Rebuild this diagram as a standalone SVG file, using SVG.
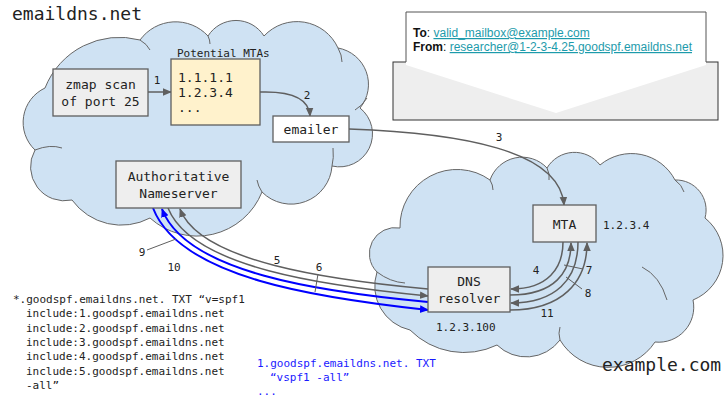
<svg xmlns="http://www.w3.org/2000/svg" width="725" height="401" viewBox="0 0 725 401">
<defs>
<style>
.cloud{fill:#cfe2f3;stroke:#666;stroke-width:1}
.hook{fill:none;stroke:#666;stroke-width:1}
.box{fill:#eeeeee;stroke:#5f5f5f;stroke-width:1.3}
.mono{font-family:"DejaVu Sans Mono","Liberation Mono",monospace;fill:#222}
.t13{font-size:13px}
.t11{font-size:11px}
.c{text-anchor:middle}
.g{fill:none;stroke:#5f5f5f;stroke-width:1.5}
.b{fill:none;stroke:#0000ff;stroke-width:2}
.lead{fill:none;stroke:#5f5f5f;stroke-width:1}
.sans{font-family:"Liberation Sans",Arial,sans-serif;font-size:12px;fill:#111}
.link{fill:#1d9bab;text-decoration:underline}
</style>
<marker id="ag" viewBox="0 0 10 10" refX="9" refY="5" markerWidth="9" markerHeight="9" markerUnits="userSpaceOnUse" orient="auto"><path d="M0,0.8 L10,5 L0,9.2 z" fill="#5f5f5f"/></marker>
<marker id="ab" viewBox="0 0 10 10" refX="9" refY="5" markerWidth="9" markerHeight="9" markerUnits="userSpaceOnUse" orient="auto"><path d="M0,0.8 L10,5 L0,9.2 z" fill="#0000ff"/></marker>
</defs>

<g id="cloud-emaildns">
<path class="cloud" d="M 35,150 A 38,38 0 0 1 45,88 A 80,80 0 0 1 140,40 A 44,44 0 0 1 208,36 A 33,33 0 0 1 264,36 A 45,45 0 0 1 338,48 A 37,37 0 0 1 360,108 A 33,33 0 0 1 332,166 A 41,41 0 0 1 262,192 A 70,70 0 0 1 150,218 A 61,61 0 0 1 72,200 A 34,34 0 0 1 35,150 Z"/>
<path class="hook" d="M 35,150 Q 50,144 62,148 M 140,40 Q 147,44 150,50 M 338,48 Q 342,55 342,62 M 355,110 Q 362,106 367,98 M 332,166 Q 334,158 333,148 M 257,180 Q 258,186 262,192 M 208,36 Q 210,40 210,44"/>
<text class="mono" x="12" y="20" font-size="18">emaildns.net</text>
</g>

<g id="cloud-example">
<path class="cloud" d="M 400,228 A 57,57 0 0 1 490,180 A 34,34 0 0 1 547,168 A 32,32 0 0 1 600,165 A 49,49 0 0 1 675,180 A 30,30 0 0 1 705,218 A 48,48 0 0 1 693,300 A 35,35 0 0 1 655,342 A 56,56 0 0 1 560,340 A 42,42 0 0 1 497,345 A 76,76 0 0 1 410,330 A 45,45 0 0 1 377,272 A 26,26 0 0 1 400,228 Z"/>
<path class="hook" d="M 547,168 Q 550,174 549,180 M 675,180 Q 682,185 684,192 M 642,267 Q 660,276 667,300 M 560,340 Q 558,333 560,327 M 377,272 Q 390,282 405,283 M 490,180 Q 493,185 493,190"/>
<text class="mono" x="602" y="371" font-size="18">example.com</text>
</g>

<g id="connectors">
<path class="g" d="M 148,92 L 171,92" marker-end="url(#ag)"/>
<path class="g" d="M 260,92 C 290,91 309,98 310,116" marker-end="url(#ag)"/>
<path class="g" d="M 349,129 C 460,133 560,150 564,205" marker-end="url(#ag)"/>
<path class="g" d="M 428,289 C 330,280 200,262 180,209" marker-end="url(#ag)"/>
<path class="g" d="M 168,208 C 192,268 326,286 428,296" marker-end="url(#ag)"/>
<path class="b" d="M 428,302 C 322,292 186,273 162,209" marker-end="url(#ab)"/>
<path class="b" d="M 153,208 C 180,278 318,298 428,310" marker-end="url(#ab)"/>
<path class="g" d="M 563,242 C 563,268 548,289 511,289" marker-end="url(#ag)"/>
<path class="g" d="M 510,295 C 555,295 571,272 571,243" marker-end="url(#ag)"/>
<path class="g" d="M 578,242 C 578,280 555,303 511,303" marker-end="url(#ag)"/>
<path class="g" d="M 510,310 C 562,310 587,282 587,243" marker-end="url(#ag)"/>
<path class="lead" d="M 147,250 L 176,239 M 318,274 L 315,292 M 564,265 L 583,269 M 566,277 L 582,289"/>
<g class="mono t11 c">
<text x="157" y="84">1</text>
<text x="307" y="99">2</text>
<text x="499" y="141">3</text>
<text x="536" y="274">4</text>
<text x="277" y="264">5</text>
<text x="319" y="271">6</text>
<text x="589" y="274">7</text>
<text x="588" y="297">8</text>
<text x="142" y="256">9</text>
<text x="174" y="271">10</text>
<text x="547" y="317">11</text>
</g>
</g>

<g id="zmap">
<rect class="box" x="53" y="69" width="95" height="47"/>
<text class="mono t13 c" x="100.5" y="89">zmap scan</text>
<text class="mono t13 c" x="100.5" y="106">of port 25</text>
</g>

<g id="potential-mtas">
<text class="mono t11" x="177" y="57">Potential MTAs</text>
<rect x="171" y="59" width="89" height="66" fill="#fff2cc" stroke="#5f5f5f" stroke-width="1.3"/>
<text class="mono t13" x="178" y="82">1.1.1.1</text>
<text class="mono t13" x="178" y="97">1.2.3.4</text>
<text class="mono t13" x="178" y="112">...</text>
</g>

<g id="emailer">
<rect x="273" y="116" width="76" height="26" fill="#ffffff" stroke="#5f5f5f" stroke-width="1.3"/>
<text class="mono t13 c" x="311" y="134">emailer</text>
</g>

<g id="nameserver">
<rect class="box" x="116" y="161" width="125" height="47"/>
<text class="mono t13 c" x="178.5" y="181">Authoritative</text>
<text class="mono t13 c" x="178.5" y="198">Nameserver</text>
</g>

<g id="mta">
<rect class="box" x="533" y="205" width="63" height="37"/>
<text class="mono t13 c" x="564.5" y="229">MTA</text>
<text class="mono t11" x="603" y="229">1.2.3.4</text>
</g>

<g id="resolver">
<rect class="box" x="428" y="267" width="82" height="45"/>
<text class="mono t13 c" x="469" y="286">DNS</text>
<text class="mono t13 c" x="469" y="303">resolver</text>
<text class="mono t11" x="436" y="331">1.2.3.100</text>
</g>

<g id="envelope">
<rect x="393" y="62" width="325" height="58" fill="#eeeeee" stroke="#333" stroke-width="1"/>
<polygon points="406,12 706,12 706,65 556,113 406,65" fill="#ffffff"/>
<path d="M 406,62 L 406,12 L 706,12 L 706,62" fill="none" stroke="#555" stroke-width="1"/>
<text class="sans" x="413" y="37"><tspan font-weight="bold">To</tspan>: <tspan class="link">valid_mailbox@example.com</tspan></text>
<text class="sans" x="413" y="51"><tspan font-weight="bold">From</tspan>: <tspan class="link">researcher@1-2-3-4.25.goodspf.emaildns.net</tspan></text>
</g>

<g id="txt-wildcard" class="mono t11">
<text x="13" y="303">*.goodspf.emaildns.net. TXT “v=spf1</text>
<text x="26" y="317.3">include:1.goodspf.emaildns.net</text>
<text x="26" y="331.7">include:2.goodspf.emaildns.net</text>
<text x="26" y="346">include:3.goodspf.emaildns.net</text>
<text x="26" y="360.3">include:4.goodspf.emaildns.net</text>
<text x="26" y="374.7">include:5.goodspf.emaildns.net</text>
<text x="26" y="389">-all”</text>
</g>

<g id="txt-include" class="mono t11" style="fill:#1a1aff">
<text x="257" y="367" fill="#1a1aff">1.goodspf.emaildns.net. TXT</text>
<text x="270" y="381" fill="#1a1aff">“vspf1 -all”</text>
<text x="257" y="395" fill="#1a1aff">...</text>
</g>
</svg>
